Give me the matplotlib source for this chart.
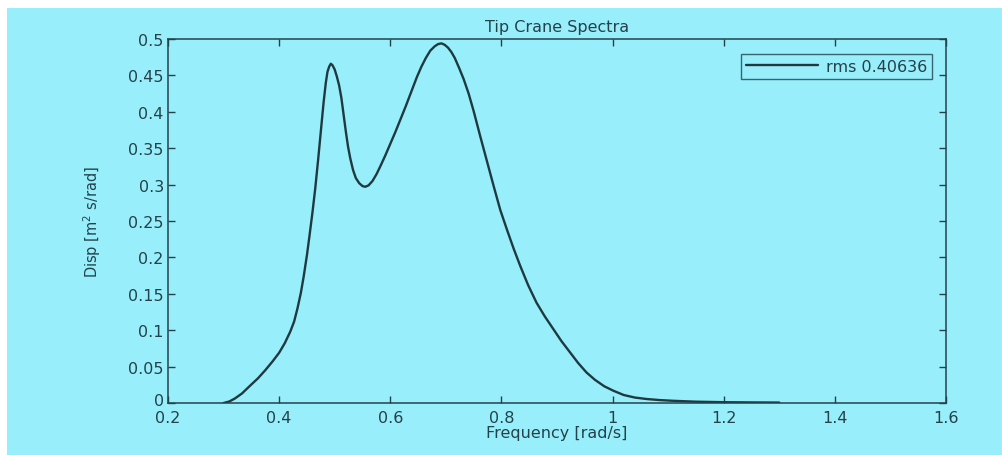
import matplotlib
matplotlib.use("Agg")
import matplotlib.pyplot as plt
from matplotlib.patches import Rectangle
from matplotlib.transforms import ScaledTranslation

freq = [0.300, 0.310, 0.320, 0.333, 0.348, 0.362, 0.375, 0.388, 0.400, 0.410,
        0.420, 0.427, 0.433, 0.439, 0.444, 0.450, 0.455, 0.460, 0.465, 0.470,
        0.475, 0.480, 0.484, 0.487, 0.490, 0.493, 0.496, 0.500, 0.504, 0.508,
        0.512, 0.516, 0.520, 0.524, 0.528, 0.533, 0.538, 0.544, 0.550, 0.555,
        0.561, 0.568, 0.575, 0.582, 0.591, 0.600, 0.609, 0.618, 0.628, 0.638,
        0.648, 0.656, 0.664, 0.672, 0.680, 0.686, 0.692, 0.698, 0.704, 0.710,
        0.716, 0.724, 0.732, 0.741, 0.750, 0.762, 0.774, 0.786, 0.798, 0.810,
        0.822, 0.834, 0.848, 0.863, 0.878, 0.893, 0.908, 0.923, 0.938, 0.953,
        0.968, 0.985, 1.001, 1.020, 1.040, 1.061, 1.085, 1.110, 1.150, 1.200,
        1.250, 1.300]
disp = [0.000, 0.002, 0.006, 0.013, 0.024, 0.034, 0.045, 0.057, 0.069, 0.082,
        0.098, 0.112, 0.130, 0.151, 0.173, 0.203, 0.232, 0.262, 0.295, 0.333,
        0.373, 0.413, 0.440, 0.455, 0.462, 0.466, 0.464, 0.458, 0.448, 0.436,
        0.419, 0.396, 0.373, 0.352, 0.336, 0.320, 0.309, 0.302, 0.298, 0.297,
        0.299, 0.305, 0.314, 0.325, 0.340, 0.356, 0.372, 0.389, 0.408, 0.428,
        0.448, 0.462, 0.474, 0.484, 0.490, 0.493, 0.494, 0.492, 0.488, 0.482,
        0.474, 0.460, 0.445, 0.425, 0.401, 0.366, 0.332, 0.298, 0.265, 0.238,
        0.212, 0.188, 0.162, 0.138, 0.119, 0.102, 0.085, 0.070, 0.055, 0.042,
        0.032, 0.023, 0.017, 0.011, 0.0075, 0.0055, 0.004, 0.003, 0.0018, 0.0011,
        0.0008, 0.0006]

xticks = [0.2, 0.4, 0.6, 0.8, 1.0, 1.2, 1.4, 1.6]
yticks = [0, 0.05, 0.1, 0.15, 0.2, 0.25, 0.3, 0.35, 0.4, 0.45, 0.5]
title = "Tip Crane Spectra"
xlabel = "Frequency [rad/s]"
ylabel = "Disp [m$^2$ s/rad]"
legend_label = "rms 0.40636"

W, H = 1003, 456
bg = "#98eefa"
ink = "#23424a"

fig = plt.figure(figsize=(W / 100, H / 100), dpi=100, facecolor="white")
fig.patches.append(Rectangle((7 / W, 0), 1, 1 - 9 / H, transform=fig.transFigure,
                             facecolor=bg, edgecolor="none", zorder=-10))
ax = fig.add_axes([168 / W, 1 - 404 / H, (946 - 168) / W, (404 - 40) / H])
ax.set_facecolor(bg)

ax.plot(freq, disp, color="#1e3a40", lw=1.7, label=legend_label,
        solid_joinstyle="round", solid_capstyle="round")

ax.set_xlim(0.2, 1.6)
ax.set_ylim(0, 0.5)
ax.set_xticks(xticks)
ax.set_yticks(yticks)
ax.set_xticklabels(["%g" % v for v in xticks])
ax.set_yticklabels(["%g" % v for v in yticks])
ax.tick_params(direction="in", length=5, width=1, colors=ink, labelsize=11.5,
               top=True, right=True)
ax.tick_params(axis="x", pad=5)
ax.tick_params(axis="y", pad=3)
for s in ax.spines.values():
    s.set_color(ink)
    s.set_linewidth(1.1)

# lift the "0" y tick label a little so it sits just above "0.2"
zero_lbl = ax.get_yticklabels()[0]
zero_lbl.set_transform(zero_lbl.get_transform() +
                       ScaledTranslation(0, 3 / 72, fig.dpi_scale_trans))

ax.set_title(title, fontsize=11.5, color=ink, pad=6)
ax.set_xlabel(xlabel, fontsize=11.5, color=ink, labelpad=0)
ax.set_ylabel(ylabel, fontsize=10.5, color=ink, labelpad=18,
              family=["Liberation Sans Narrow", "DejaVu Sans"])

leg = ax.legend(loc="upper right", fontsize=11.5, frameon=True, fancybox=False,
                handlelength=4.5, borderpad=0.3, handletextpad=0.5,
                bbox_to_anchor=(0.992, 0.98))
leg.get_frame().set_facecolor(bg)
leg.get_frame().set_edgecolor(ink)
leg.get_frame().set_linewidth(1.0)
for t in leg.get_texts():
    t.set_color(ink)

fig.savefig("out.png", dpi=100, facecolor=fig.get_facecolor())
